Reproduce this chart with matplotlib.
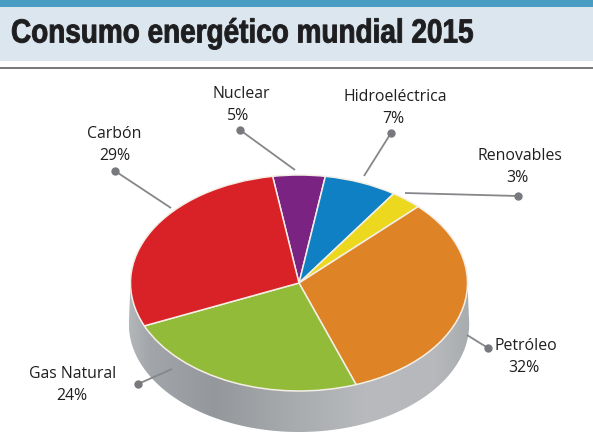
import numpy as np
import matplotlib
matplotlib.use("Agg")
import matplotlib.pyplot as plt
from matplotlib.patches import Polygon, Rectangle
from matplotlib.patheffects import AbstractPathEffect
from matplotlib.transforms import Affine2D
from matplotlib.colors import LinearSegmentedColormap

W, H = 593, 440
title = "Consumo energético mundial 2015"
categories = ["Nuclear", "Hidroeléctrica", "Renovables", "Petróleo", "Gas Natural", "Carbón"]
values = [5, 7, 3, 32, 24, 29]
colors = ["#7a2382", "#0f80c4", "#ecd91f", "#de8427", "#93bb3a", "#d92228"]
label_pos = [(241, 94), (395, 97), (520, 156), (526, 346), (73, 374), (114, 134)]
pct_pos = [(238, 116), (393, 119), (517, 178), (524, 368), (72, 396), (115, 156)]
leader_from = [(240, 130), (391, 133), (518, 196), (488, 348), (138, 384), (115, 171)]
leader_to = [(295, 170), (364, 176), (405, 193), (467, 335), (172, 369), (171, 208)]

cx, cy, rx, ry, depth = 299, 283, 168.5, 108, 41


class Condensed(AbstractPathEffect):
    """Draw the glyphs squeezed horizontally about x0 (display px), and slightly emboldened."""
    def __init__(self, x0, sx, bold):
        super().__init__()
        self.x0, self.sx, self.bold = x0, sx, bold

    def draw_path(self, renderer, gc, tpath, affine, rgbFace=None):
        gc0 = renderer.new_gc()
        gc0.copy_properties(gc)
        gc0.set_linewidth(self.bold)
        gc0.set_foreground(rgbFace)
        squeeze = Affine2D().translate(-self.x0, 0).scale(self.sx, 1).translate(self.x0, 0)
        renderer.draw_path(gc0, tpath, affine + squeeze, rgbFace)
        gc0.restore()


fig = plt.figure(figsize=(W / 100, H / 100), dpi=100, facecolor="white")

# pixel-coordinate layer for the header
bg = fig.add_axes([0, 0, 1, 1])
bg.set_xlim(0, W); bg.set_ylim(H, 0); bg.axis("off")
bg.add_patch(Rectangle((0, 7), W, 54, color="#dbe6ee", lw=0))
bg.add_patch(Rectangle((0, 0), W, 7, color="#4a9dc2", lw=0))
bg.plot([0, W], [68.5, 68.5], color="#6b6b6b", lw=1.3)
title_artist = bg.text(11, 34, title, family="Liberation Sans", weight="bold", fontsize=24,
                       color="#1e1e20", va="center", ha="left")
title_artist.set_path_effects([Condensed(11, 0.838, 0.65)])

# pie layer: one data unit = the ellipse radius along each direction
ax = fig.add_axes([0, 0, 1, 1])
ax.patch.set_alpha(0)
wedges, _ = ax.pie(values, colors=colors, startangle=99, counterclock=False, radius=1,
                   wedgeprops=dict(edgecolor="#f4efe6", linewidth=1.1, zorder=3))
ax.set_aspect("auto")
ax.axis("off")

# side wall of the disc, shaded by a horizontal gradient
t = np.linspace(np.pi, 2 * np.pi, 200)
d = depth / ry
lower = np.c_[np.cos(t), np.sin(t)]
wall_low = np.c_[1.01 * np.cos(t), np.sin(t) - d]
wall = np.r_[wall_low, lower[::-1]]
cmap = LinearSegmentedColormap.from_list("wall", [
    (0.00, "#b4b7ba"), (0.06, "#a2a5a9"), (0.25, "#94979b"), (0.45, "#a6a9ac"),
    (0.70, "#b8babd"), (0.90, "#b6b8bb"), (1.00, "#a9acaf")])
im = ax.imshow(np.linspace(0, 1, 256)[None, :], extent=(-1.01, 1.01, -1 - d, 0), cmap=cmap,
               aspect="auto", zorder=1, interpolation="bilinear")
clip = Polygon(wall, transform=ax.transData, fc="none", ec="none")
ax.add_patch(clip)
im.set_clip_path(clip)
ax.set_xlim(-cx / rx, (W - cx) / rx)
ax.set_ylim((cy - H) / ry, cy / ry)

# labels and leaders in pixel coordinates
top = fig.add_axes([0, 0, 1, 1])
top.patch.set_alpha(0)
top.set_xlim(0, W); top.set_ylim(H, 0); top.axis("off")
font = "Open Sans"
for name, v, lp, pp, a, b in zip(categories, values, label_pos, pct_pos, leader_from, leader_to):
    top.text(*lp, name, family=font, fontsize=11.4, color="#1f1f21", ha="center", va="center")
    top.text(*pp, f"{v}%", family=font, fontsize=11.4, color="#1f1f21", ha="center", va="center")
    top.plot([a[0], b[0]], [a[1], b[1]], color="#85878a", lw=1.3, solid_capstyle="butt")
    top.plot([a[0]], [a[1]], "o", color="#77797d", ms=6, mew=0)

fig.savefig("out.png", dpi=100, facecolor="white")
